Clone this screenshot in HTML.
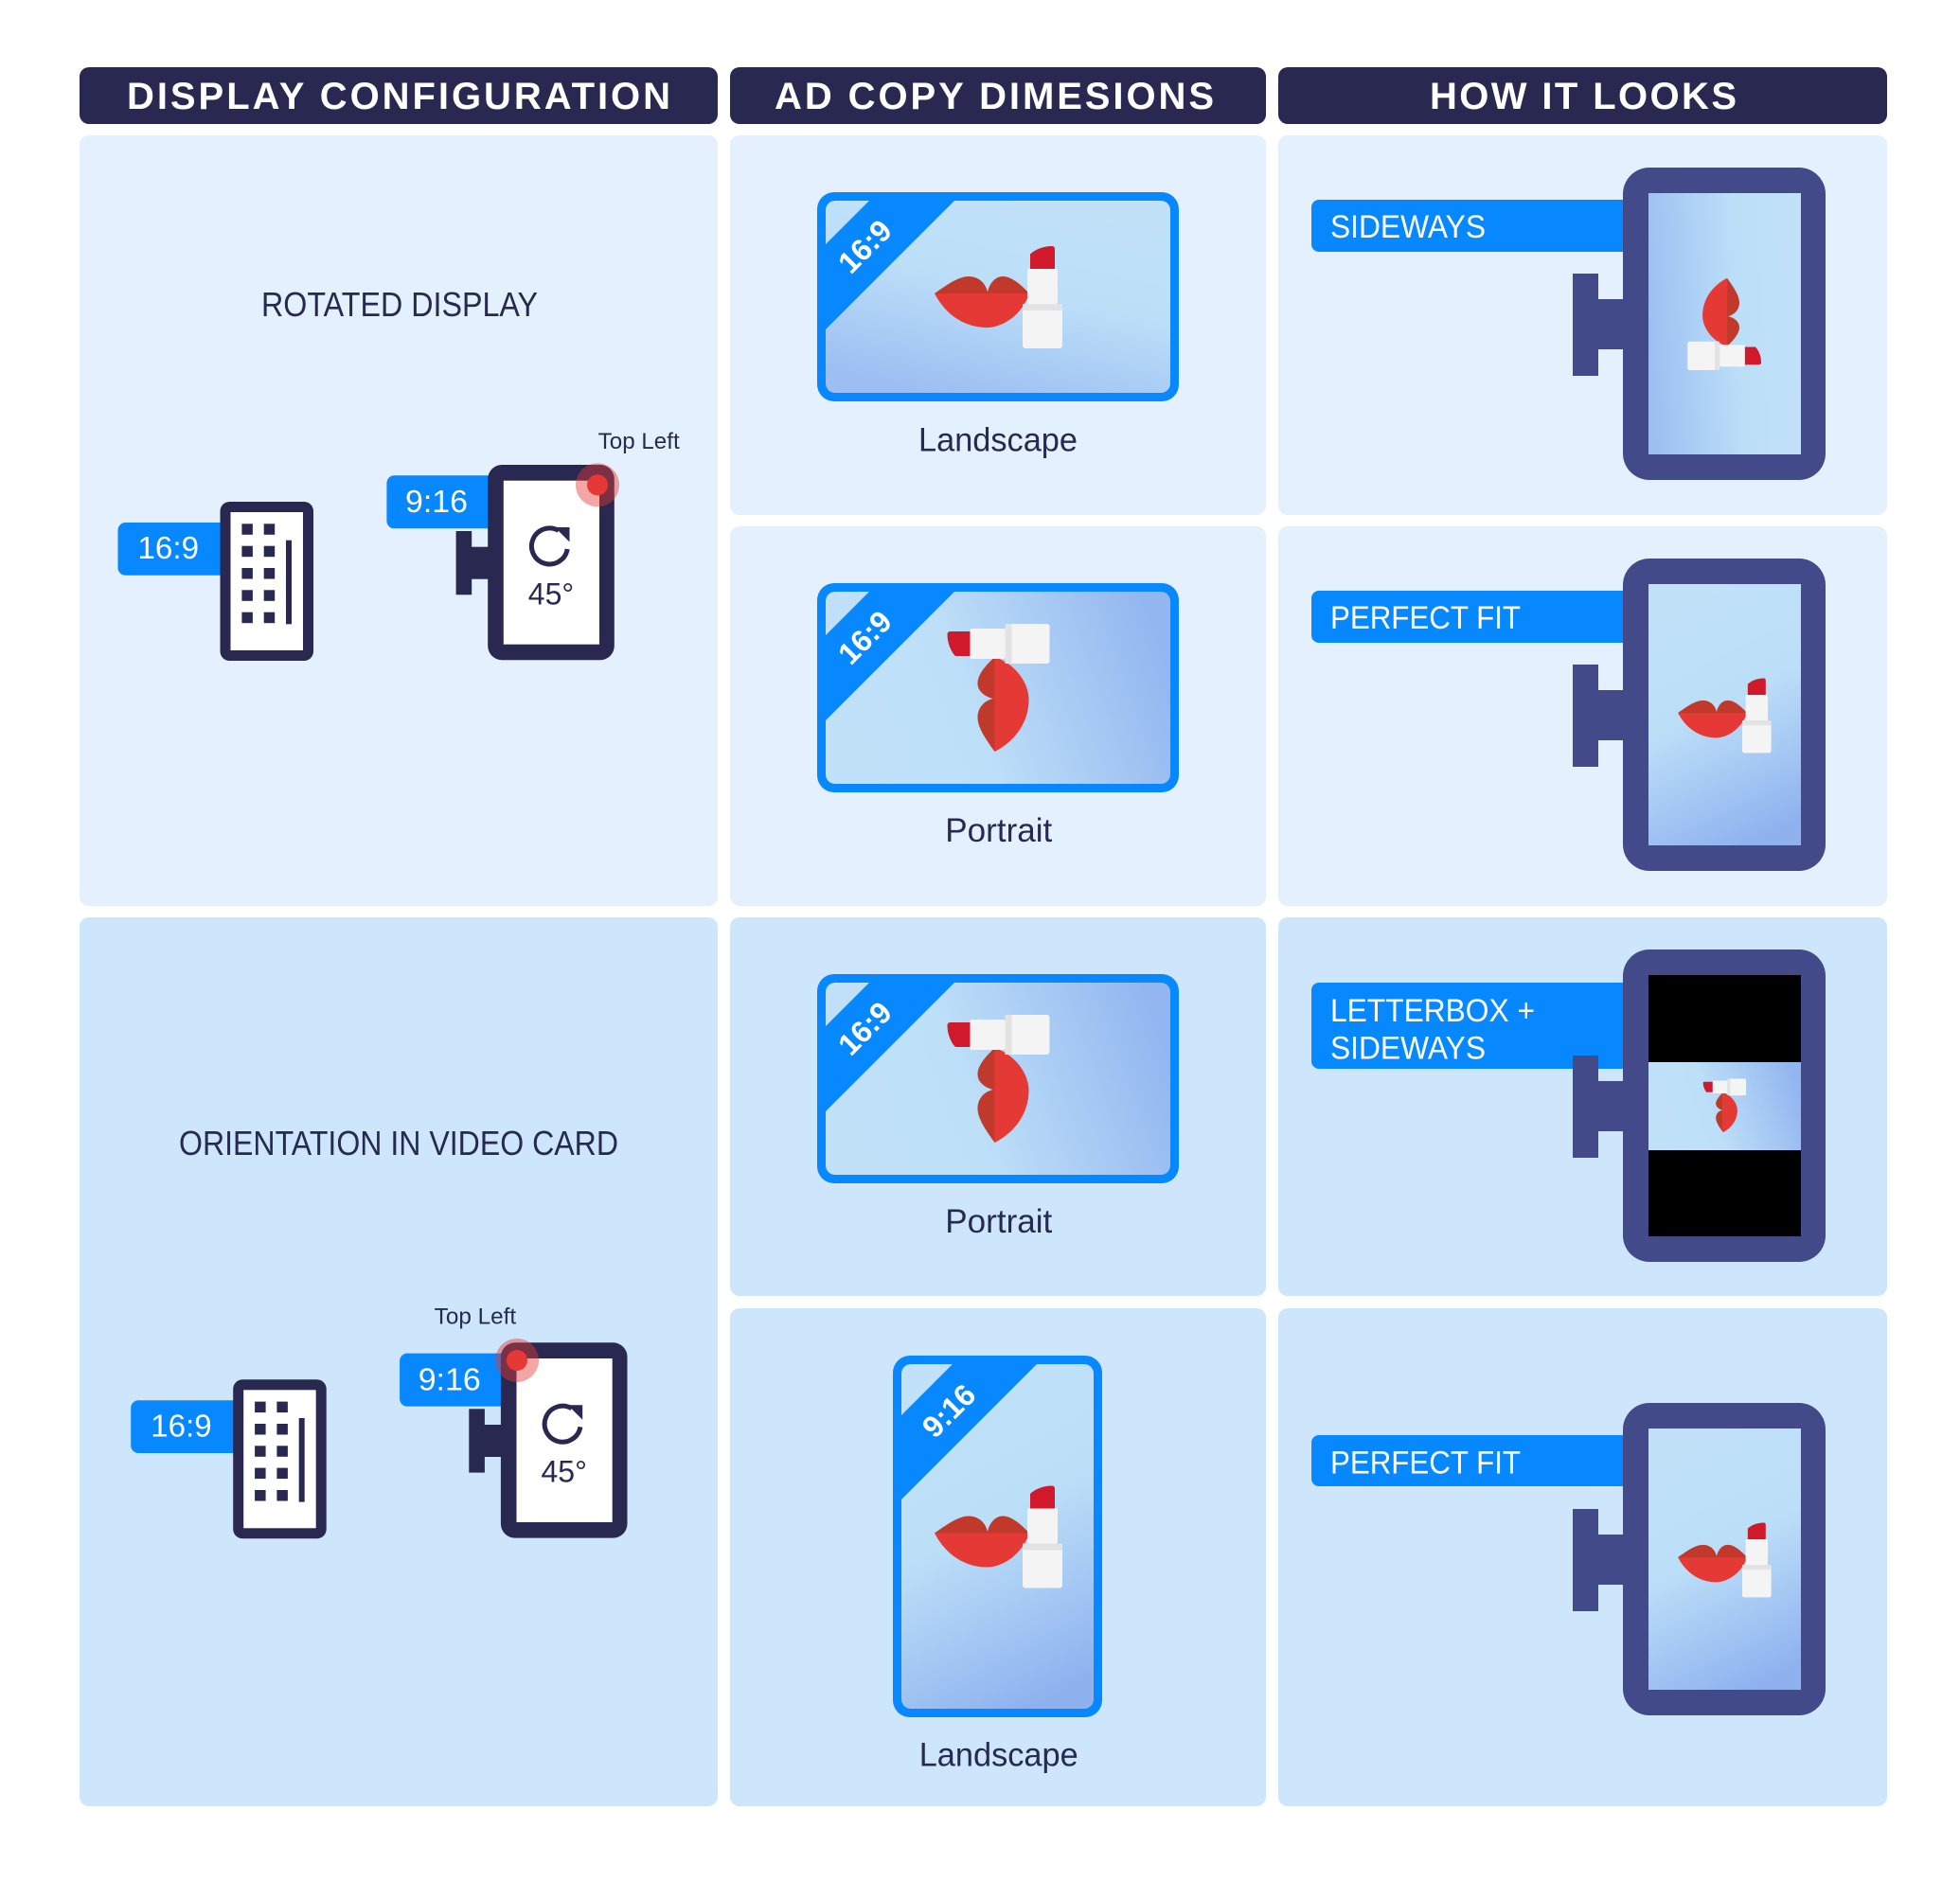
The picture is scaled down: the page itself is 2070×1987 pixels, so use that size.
<!DOCTYPE html>
<html><head><meta charset="utf-8"><style>html,body{margin:0;padding:0;background:#fff}svg{display:block}</style></head>
<body>
<svg width="2070" height="1987" viewBox="0 0 2070 1987" xmlns="http://www.w3.org/2000/svg" font-family="'Liberation Sans', Arial, sans-serif">
<defs>
  <linearGradient id="gL" x1="0.7" y1="0" x2="0.3" y2="1">
    <stop offset="0" stop-color="#c0e1f8"/><stop offset="0.45" stop-color="#bcdff8"/><stop offset="1" stop-color="#9cbef2"/>
  </linearGradient>
  <linearGradient id="gP" x1="0" y1="0.6" x2="1" y2="0.4">
    <stop offset="0" stop-color="#c0e1f8"/><stop offset="0.4" stop-color="#bddff8"/><stop offset="1" stop-color="#93b6f0"/>
  </linearGradient>
  <linearGradient id="gD" x1="0.35" y1="0" x2="0.65" y2="1">
    <stop offset="0" stop-color="#c0e1f8"/><stop offset="0.45" stop-color="#bcdff8"/><stop offset="1" stop-color="#8fb2ef"/>
  </linearGradient>
  <linearGradient id="gS" x1="1" y1="0.45" x2="0" y2="0.55">
    <stop offset="0" stop-color="#c0e1f8"/><stop offset="0.4" stop-color="#bcdff8"/><stop offset="1" stop-color="#9cbff2"/>
  </linearGradient>
  <g id="lips">
    <path fill="#e53935" d="M-67,-3.5 L33,-3.5 C26,18 6,32.5 -12,32.5 C-36,32.5 -56,18 -67,-3.5 Z"/>
    <path fill="#c0392b" d="M-67,-3.5 C-55,-12 -42,-21.5 -31,-21.5 C-20,-21.5 -13,-14 -11,-5 C-9,-14 -3,-21.5 5,-21.5 C15,-21.5 25,-12 33,-3.5 Z"/>
    <path fill="#d0192b" d="M34,-29.5 L34,-45 C39,-50 48,-53.5 57,-53.5 Q60,-53.5 60,-50 L60,-29.5 Z"/>
    <rect x="31" y="-29.5" width="32" height="37" rx="2" fill="#f4f4f4"/>
    <rect x="26" y="7.5" width="42" height="47" rx="3" fill="#f4f4f4"/>
    <rect x="26" y="7.5" width="42" height="7" fill="#e3e3e3"/>
  </g>
</defs>

<!-- Headers -->
<rect x="84" y="71" width="674" height="60" rx="10" fill="#282850"/>
<rect x="771" y="71" width="566" height="60" rx="10" fill="#282850"/>
<rect x="1350" y="71" width="643" height="60" rx="10" fill="#282850"/>
<text x="134" y="115" font-size="40" font-weight="bold" fill="#fff" textLength="574">DISPLAY CONFIGURATION</text>
<text x="818" y="115" font-size="40" font-weight="bold" fill="#fff" textLength="464">AD COPY DIMESIONS</text>
<text x="1510" y="115" font-size="40" font-weight="bold" fill="#fff" textLength="324">HOW IT LOOKS</text>

<!-- Panels -->
<rect x="84" y="143" width="674" height="814" rx="10" fill="#e4f0fd"/>
<rect x="771" y="143" width="566" height="401" rx="10" fill="#e4f0fd"/>
<rect x="1350" y="143" width="643" height="401" rx="10" fill="#e4f0fd"/>
<rect x="771" y="556" width="566" height="401" rx="10" fill="#e4f0fd"/>
<rect x="1350" y="556" width="643" height="401" rx="10" fill="#e4f0fd"/>
<rect x="84" y="969" width="674" height="939" rx="10" fill="#cde6fc"/>
<rect x="771" y="969" width="566" height="400" rx="10" fill="#cde6fc"/>
<rect x="1350" y="969" width="643" height="400" rx="10" fill="#cde6fc"/>
<rect x="771" y="1382" width="566" height="526" rx="10" fill="#cde6fc"/>
<rect x="1350" y="1382" width="643" height="526" rx="10" fill="#cde6fc"/>

<!-- Column 1 titles -->
<text x="276" y="334" font-size="36" fill="#272a50" textLength="292" lengthAdjust="spacingAndGlyphs">ROTATED DISPLAY</text>
<text x="189" y="1220" font-size="36" fill="#272a50" textLength="464" lengthAdjust="spacingAndGlyphs">ORIENTATION IN VIDEO CARD</text>

<!-- Column 1 row 1 devices -->
<g id="devA">
  <rect x="124.5" y="552" width="120" height="55.7" rx="8" fill="#0788ff"/>
  <text x="145.5" y="590" font-size="33" fill="#fff" textLength="64.5" lengthAdjust="spacingAndGlyphs">16:9</text>
  <rect x="232.5" y="530" width="98.5" height="168" rx="10" fill="#282850"/>
  <rect x="243.5" y="541" width="76.5" height="146" fill="#fff"/>
  <g fill="#282850">
    <rect x="255.4" y="553.3" width="11.5" height="11.5"/><rect x="278.7" y="553.3" width="11.5" height="11.5"/>
    <rect x="255.4" y="576.7" width="11.5" height="11.5"/><rect x="278.7" y="576.7" width="11.5" height="11.5"/>
    <rect x="255.4" y="600" width="11.5" height="11.5"/><rect x="278.7" y="600" width="11.5" height="11.5"/>
    <rect x="255.4" y="623.3" width="11.5" height="11.5"/><rect x="278.7" y="623.3" width="11.5" height="11.5"/>
    <rect x="255.4" y="646.7" width="11.5" height="11.5"/><rect x="278.7" y="646.7" width="11.5" height="11.5"/>
    <rect x="302" y="570.7" width="6" height="88.6"/>
  </g>
  <rect x="408.4" y="502.3" width="120" height="56" rx="8" fill="#0788ff"/>
  <text x="428" y="541" font-size="33" fill="#fff" textLength="66" lengthAdjust="spacingAndGlyphs">9:16</text>
  <rect x="481.6" y="561" width="16.6" height="67.3" fill="#282850"/>
  <rect x="497" y="577.7" width="22" height="34" fill="#282850"/>
  <rect x="515.2" y="491" width="133.6" height="206.3" rx="15" fill="#282850"/>
  <rect x="531.8" y="507.7" width="101.2" height="173" fill="#fff"/>
  <path d="M599.2,580 A19,19 0 1 1 590,560.5" fill="none" stroke="#282850" stroke-width="5"/>
  <path d="M586,557 L601.5,557 L601.5,572.5 Z" fill="#282850"/>
  <text x="582" y="638.3" font-size="32" fill="#272a50" text-anchor="middle">45°</text>
</g>
<circle cx="631" cy="512.3" r="23" fill="#e53935" fill-opacity="0.45"/>
<circle cx="631" cy="512.3" r="11" fill="#e53935"/>
<text x="631.7" y="474" font-size="24" fill="#272a50" textLength="86" lengthAdjust="spacingAndGlyphs">Top Left</text>

<!-- Column 1 row 3 devices -->
<use href="#devA" transform="translate(13.7,927.3)"/>
<circle cx="546" cy="1437" r="23" fill="#e53935" fill-opacity="0.45"/>
<circle cx="546" cy="1437" r="11" fill="#e53935"/>
<text x="458.7" y="1398.4" font-size="24" fill="#272a50" textLength="86.5" lengthAdjust="spacingAndGlyphs">Top Left</text>

<!-- Column 2 cards -->
<!-- Row 1 landscape -->
<rect x="863" y="203" width="382" height="221" rx="18" fill="#0788ff"/>
<rect x="872" y="212" width="364" height="203" rx="10" fill="url(#gL)"/>
<polygon points="918,212 1008,212 872,348 872,258" fill="#0788ff"/>
<text transform="translate(913,260) rotate(-45)" x="0" y="11.5" font-size="32" font-weight="bold" fill="#fff" text-anchor="middle">16:9</text>
<use href="#lips" transform="translate(1054,313.5)"/>
<text x="970" y="476.7" font-size="35" fill="#272a50" textLength="168" lengthAdjust="spacingAndGlyphs">Landscape</text>

<!-- Row 2 portrait -->
<rect x="863" y="616" width="382" height="221" rx="18" fill="#0788ff"/>
<rect x="872" y="625" width="364" height="203" rx="10" fill="url(#gP)"/>
<polygon points="918,625 1008,625 872,761 872,671" fill="#0788ff"/>
<text transform="translate(913,673) rotate(-45)" x="0" y="11.5" font-size="32" font-weight="bold" fill="#fff" text-anchor="middle">16:9</text>
<use href="#lips" transform="translate(1054,727) rotate(-90)"/>
<text x="998.3" y="889" font-size="35" fill="#272a50" textLength="113" lengthAdjust="spacingAndGlyphs">Portrait</text>

<!-- Row 3 portrait -->
<rect x="863" y="1029" width="382" height="221" rx="18" fill="#0788ff"/>
<rect x="872" y="1038" width="364" height="203" rx="10" fill="url(#gP)"/>
<polygon points="918,1038 1008,1038 872,1174 872,1084" fill="#0788ff"/>
<text transform="translate(913,1086) rotate(-45)" x="0" y="11.5" font-size="32" font-weight="bold" fill="#fff" text-anchor="middle">16:9</text>
<use href="#lips" transform="translate(1054,1140) rotate(-90)"/>
<text x="998.3" y="1302" font-size="35" fill="#272a50" textLength="113" lengthAdjust="spacingAndGlyphs">Portrait</text>

<!-- Row 4 tall card -->
<rect x="943" y="1432" width="221" height="382" rx="18" fill="#0788ff"/>
<rect x="952" y="1441" width="203" height="364" rx="10" fill="url(#gD)"/>
<polygon points="1006,1441 1095,1441 952,1584 952,1495" fill="#0788ff"/>
<text transform="translate(1001.7,1490) rotate(-45)" x="0" y="11.5" font-size="32" font-weight="bold" fill="#fff" text-anchor="middle">9:16</text>
<use href="#lips" transform="translate(1054,1623)"/>
<text x="970.7" y="1865.7" font-size="35" fill="#272a50" textLength="168" lengthAdjust="spacingAndGlyphs">Landscape</text>

<!-- Column 3 -->
<!-- Row 1 SIDEWAYS -->
<rect x="1385" y="211" width="345" height="55" rx="8" fill="#0788ff"/>
<text x="1405" y="251" font-size="34" fill="#fff" textLength="164" lengthAdjust="spacingAndGlyphs">SIDEWAYS</text>
<rect x="1661" y="289" width="27" height="108" fill="#434a89"/>
<rect x="1687" y="316" width="32" height="53" fill="#434a89"/>
<rect x="1714" y="177" width="214" height="330" rx="28" fill="#434a89"/>
<rect x="1741" y="204" width="161" height="276" fill="url(#gS)"/>
<use href="#lips" transform="translate(1821.5,342) rotate(90) scale(0.72)"/>

<!-- Row 2 PERFECT FIT -->
<rect x="1385" y="624" width="345" height="55" rx="8" fill="#0788ff"/>
<text x="1405" y="664" font-size="34" fill="#fff" textLength="201" lengthAdjust="spacingAndGlyphs">PERFECT FIT</text>
<rect x="1661" y="702" width="27" height="108" fill="#434a89"/>
<rect x="1687" y="729" width="32" height="53" fill="#434a89"/>
<rect x="1714" y="590" width="214" height="330" rx="28" fill="#434a89"/>
<rect x="1741" y="617" width="161" height="276" fill="url(#gD)"/>
<use href="#lips" transform="translate(1821,755.6) scale(0.73)"/>

<!-- Row 3 LETTERBOX + SIDEWAYS -->
<rect x="1385" y="1038" width="345" height="91" rx="8" fill="#0788ff"/>
<text x="1405" y="1079" font-size="34" fill="#fff" textLength="216" lengthAdjust="spacingAndGlyphs">LETTERBOX +</text>
<text x="1405" y="1118.6" font-size="34" fill="#fff" textLength="164" lengthAdjust="spacingAndGlyphs">SIDEWAYS</text>
<rect x="1661" y="1115" width="27" height="108" fill="#434a89"/>
<rect x="1687" y="1142" width="32" height="53" fill="#434a89"/>
<rect x="1714" y="1003" width="214" height="330" rx="28" fill="#434a89"/>
<rect x="1741" y="1030" width="161" height="276" fill="#000"/>
<rect x="1741" y="1122" width="161" height="93" fill="url(#gP)"/>
<use href="#lips" transform="translate(1821.2,1168) rotate(-90) scale(0.42)"/>

<!-- Row 4 PERFECT FIT -->
<rect x="1385" y="1516" width="345" height="54" rx="8" fill="#0788ff"/>
<text x="1405" y="1556.5" font-size="34" fill="#fff" textLength="201" lengthAdjust="spacingAndGlyphs">PERFECT FIT</text>
<rect x="1661" y="1594" width="27" height="108" fill="#434a89"/>
<rect x="1687" y="1621" width="32" height="53" fill="#434a89"/>
<rect x="1714" y="1482" width="214" height="330" rx="28" fill="#434a89"/>
<rect x="1741" y="1509" width="161" height="276" fill="url(#gD)"/>
<use href="#lips" transform="translate(1821,1647.6) scale(0.73)"/>
</svg>
</body></html>
